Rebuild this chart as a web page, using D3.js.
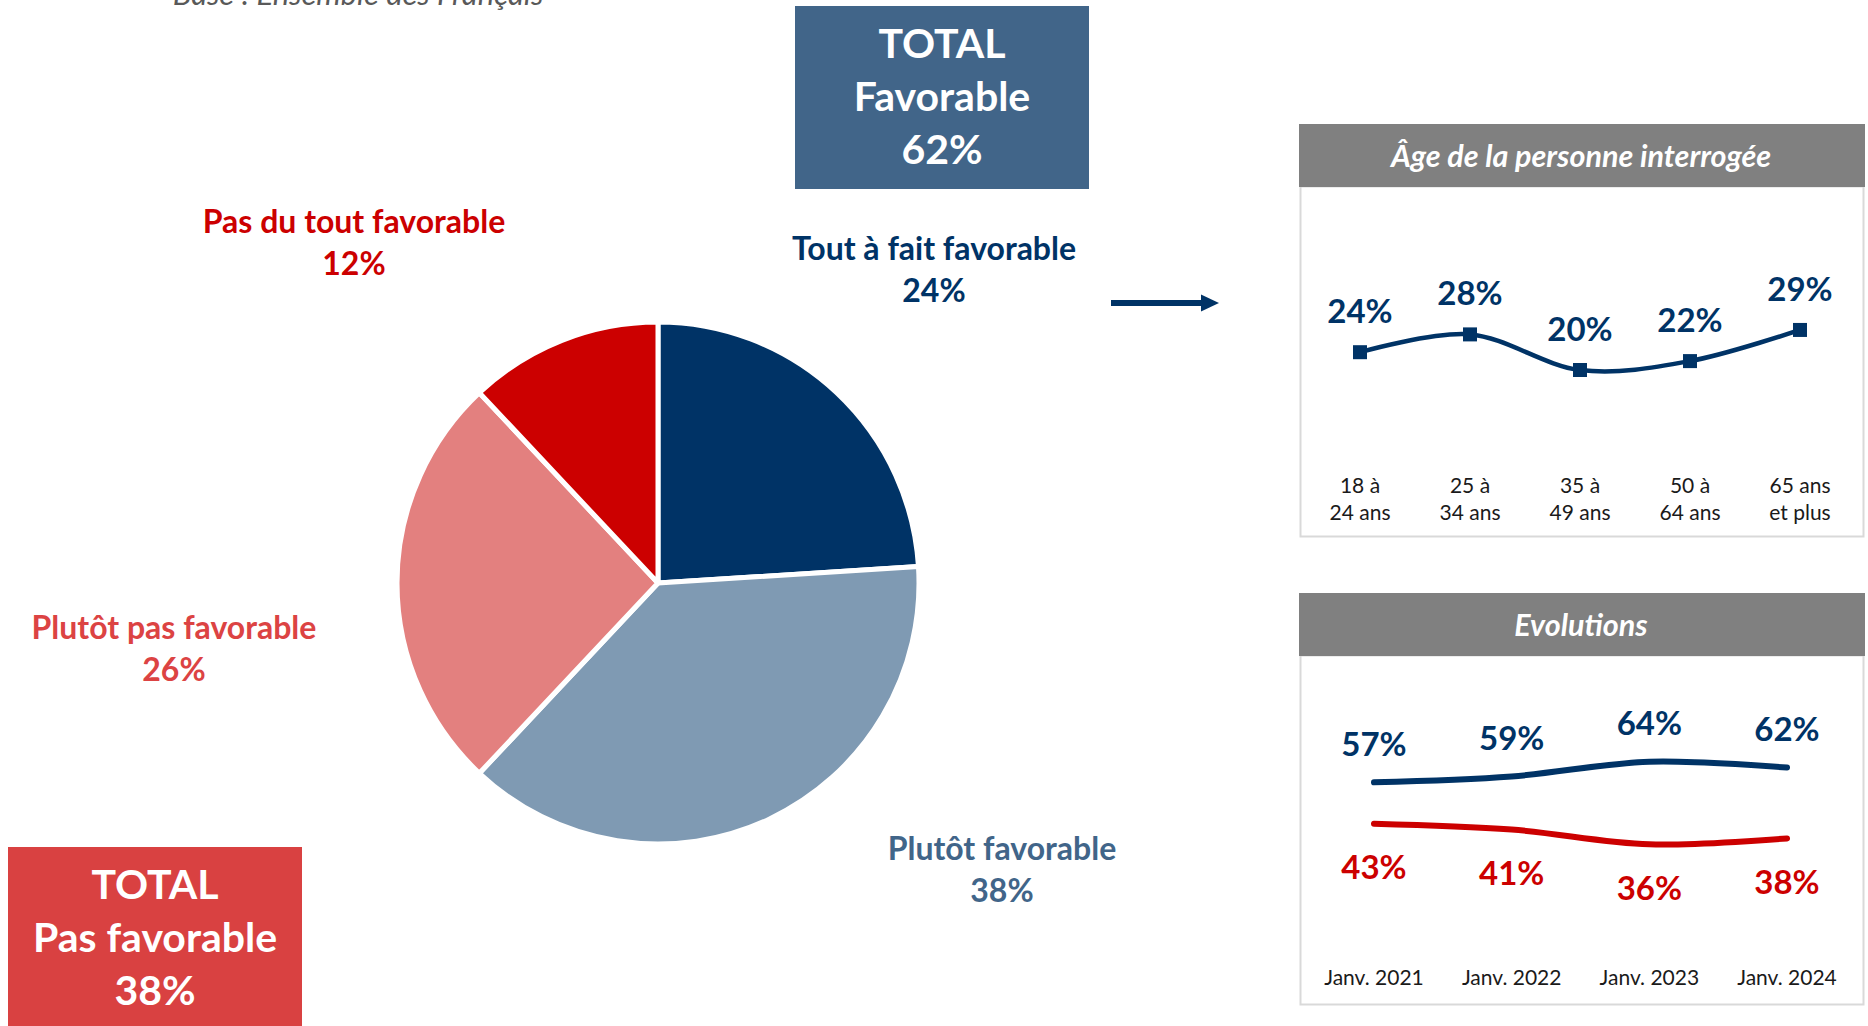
<!DOCTYPE html>
<html>
<head>
<meta charset="utf-8">
<script src="https://d3js.org/d3.v7.min.js"></script>
<style>
  body { margin: 0; background: #fff; }
  svg { display: block; font-family: Lato, "Open Sans", sans-serif; }
</style>
</head>
<body>
<svg id="chart" width="1868" height="1026"></svg>
<script>
// --- data ---
var pieLabels = ["Tout à fait favorable", "Plutôt favorable", "Plutôt pas favorable", "Pas du tout favorable"];
var pieValues = [24, 38, 26, 12];
var pieColors = ["#003366", "#7f9ab3", "#e3807f", "#cc0000"];
var labelColors = ["#003366", "#416589", "#dc4343", "#cc0000"];

var totalFav = 62, totalPas = 38;

var ageCats = [["18 à", "24 ans"], ["25 à", "34 ans"], ["35 à", "49 ans"], ["50 à", "64 ans"], ["65 ans", "et plus"]];
var ageValues = [24, 28, 20, 22, 29];

var evoYears = ["Janv. 2021", "Janv. 2022", "Janv. 2023", "Janv. 2024"];
var evoFav = [57, 59, 64, 62];
var evoPas = [43, 41, 36, 38];

// --- layout ---
var navy = "#003366", red = "#cc0000";
var svg = d3.select("#chart");
svg.append("rect").attr("width", 1868).attr("height", 1026).attr("fill", "#fff");

svg.append("text")
  .attr("x", 358).attr("y", 5)
  .attr("text-anchor", "middle")
  .attr("font-size", 31).attr("font-style", "italic")
  .attr("fill", "#595959")
  .text("Base : Ensemble des Français");

// pie
var cx = 658, cy = 583, R = 261;
var pie = d3.pie().sort(null).value(function(d) { return d; });
var arc = d3.arc().innerRadius(0).outerRadius(R);
var arcs = pie(pieValues);

svg.append("g").attr("transform", "translate(" + cx + "," + cy + ")")
  .selectAll("path").data(arcs).enter().append("path")
    .attr("d", arc)
    .attr("fill", function(d, i) { return pieColors[i]; })
    .attr("stroke", "#fff")
    .attr("stroke-width", 5)
    .attr("stroke-linejoin", "round");

// label anchors (placed by hand like in the source slide)
var labelAnchors = [[934, 249], [1002, 849], [174, 628], [354, 222]];
pieLabels.forEach(function(lab, i) {
  var t = svg.append("text")
    .attr("text-anchor", "middle")
    .attr("font-weight", "bold")
    .attr("font-size", 32)
    .attr("fill", labelColors[i]);
  t.append("tspan").attr("x", labelAnchors[i][0]).attr("y", labelAnchors[i][1]).attr("dy", "0.35em").text(lab);
  t.append("tspan").attr("x", labelAnchors[i][0]).attr("y", labelAnchors[i][1] + 42).attr("dy", "0.35em").text(pieValues[i] + "%");
});

// total boxes
function totalBox(x, y, w, h, color, lines) {
  svg.append("rect").attr("x", x).attr("y", y).attr("width", w).attr("height", h).attr("fill", color);
  var t = svg.append("text").attr("text-anchor", "middle").attr("font-weight", "bold")
    .attr("font-size", 41).attr("fill", "#fff");
  lines.forEach(function(l, i) {
    t.append("tspan").attr("x", x + w / 2).attr("y", y + 38 + i * 53).attr("dy", "0.35em").text(l);
  });
}
totalBox(795, 6, 294, 183, "#416589", ["TOTAL", "Favorable", totalFav + "%"]);
totalBox(8, 847, 294, 200, "#d94141", ["TOTAL", "Pas favorable", totalPas + "%"]);

// arrow
svg.append("line").attr("x1", 1111).attr("y1", 303).attr("x2", 1203).attr("y2", 303)
  .attr("stroke", navy).attr("stroke-width", 6);
svg.append("path").attr("d", "M1201,294.5 L1219,303 L1201,311.5 Z").attr("fill", navy);

// panels
function panel(y0, bodyH, title) {
  svg.append("rect").attr("x", 1300.5).attr("y", y0 + 62.5).attr("width", 563).attr("height", bodyH)
    .attr("fill", "#fff").attr("stroke", "#d9d9d9").attr("stroke-width", 2);
  svg.append("rect").attr("x", 1299).attr("y", y0).attr("width", 566).attr("height", 63).attr("fill", "#808080");
  svg.append("text").attr("x", 1581).attr("y", y0 + 32).attr("dy", "0.35em")
    .attr("text-anchor", "middle").attr("font-weight", "bold").attr("font-style", "italic")
    .attr("font-size", 30.5).attr("fill", "#fff").text(title);
}
panel(124, 350, "Âge de la personne interrogée");
panel(593, 349, "Evolutions");

var smooth = d3.curveCardinal.tension(0);

// age panel
var xAge = d3.scalePoint().domain(d3.range(ageCats.length)).range([1360, 1800]);
var yAge = d3.scaleLinear().domain([0, 40]).range([459, 281]);
var ageLine = d3.line().x(function(d, i) { return xAge(i); }).y(function(d) { return yAge(d); }).curve(smooth);
svg.append("path").datum(ageValues).attr("d", ageLine)
  .attr("fill", "none").attr("stroke", navy).attr("stroke-width", 4.5);
svg.selectAll(".agemk").data(ageValues).enter().append("rect")
  .attr("x", function(d, i) { return xAge(i) - 7; })
  .attr("y", function(d) { return yAge(d) - 7; })
  .attr("width", 14).attr("height", 14).attr("fill", navy);
svg.selectAll(".ageval").data(ageValues).enter().append("text")
  .attr("x", function(d, i) { return xAge(i); })
  .attr("y", function(d) { return yAge(d) - 41; })
  .attr("dy", "0.35em").attr("text-anchor", "middle")
  .attr("font-weight", "bold").attr("font-size", 33).attr("fill", navy)
  .text(function(d) { return d + "%"; });
ageCats.forEach(function(c, i) {
  var t = svg.append("text").attr("text-anchor", "middle").attr("font-size", 21).attr("fill", "#1a1a1a");
  c.forEach(function(l, j) {
    t.append("tspan").attr("x", xAge(i)).attr("y", 486 + j * 27).attr("dy", "0.35em").text(l);
  });
});

// evolutions panel
var xEvo = d3.scalePoint().domain(evoYears).range([1374, 1787]);
var yEvo = d3.scaleLinear().domain([30, 70]).range([862, 744]);
var evoLine = d3.line().x(function(d, i) { return xEvo(evoYears[i]); }).y(function(d) { return yEvo(d); }).curve(smooth);
[[evoFav, navy, -38], [evoPas, red, 44]].forEach(function(s) {
  svg.append("path").datum(s[0]).attr("d", evoLine)
    .attr("fill", "none").attr("stroke", s[1]).attr("stroke-width", 6).attr("stroke-linecap", "round");
  svg.selectAll(null).data(s[0]).enter().append("text")
    .attr("x", function(d, i) { return xEvo(evoYears[i]); })
    .attr("y", function(d) { return yEvo(d) + s[2]; })
    .attr("dy", "0.35em").attr("text-anchor", "middle")
    .attr("font-weight", "bold").attr("font-size", 33).attr("fill", s[1])
    .text(function(d) { return d + "%"; });
});
svg.selectAll(".evox").data(evoYears).enter().append("text")
  .attr("x", function(d) { return xEvo(d); })
  .attr("y", 978).attr("dy", "0.35em").attr("text-anchor", "middle")
  .attr("font-size", 21).attr("fill", "#1a1a1a")
  .text(function(d) { return d; });
</script>
</body>
</html>
